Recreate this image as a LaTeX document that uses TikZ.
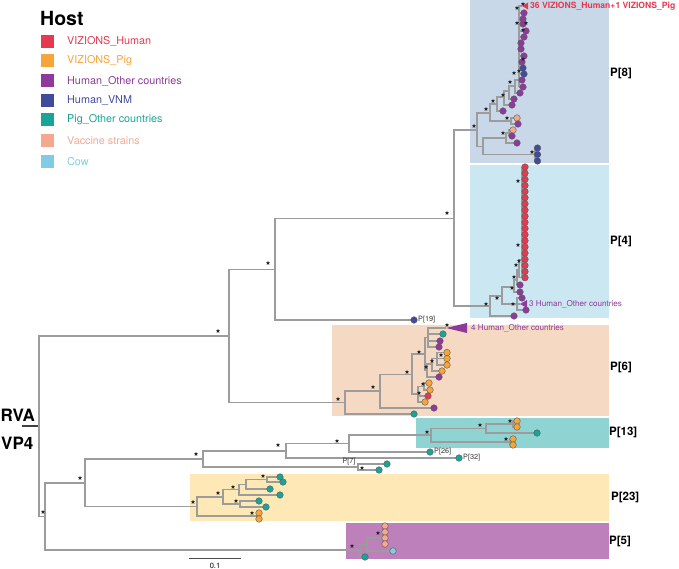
\documentclass[tikz,border=0pt]{standalone}
\usepackage{fontspec}
\setmainfont{TeX Gyre Heros}
\usetikzlibrary{shapes.geometric}
\pgfdeclarelayer{bg}
\pgfsetlayers{bg,main}
\definecolor{cR}{HTML}{E4394F}
\definecolor{cO}{HTML}{F5A53A}
\definecolor{cP}{HTML}{8E3A9A}
\definecolor{cB}{HTML}{3F4B9B}
\definecolor{cT}{HTML}{17A597}
\definecolor{cS}{HTML}{F4A88F}
\definecolor{cC}{HTML}{7FCDE4}
\definecolor{brc}{HTML}{9C9C9C}
\definecolor{bxA}{HTML}{C8D8E9}
\definecolor{bxB}{HTML}{CBE7F1}
\definecolor{bxC}{HTML}{F6D9C3}
\definecolor{bxD}{HTML}{8FD4D2}
\definecolor{bxE}{HTML}{FDE8B6}
\definecolor{bxF}{HTML}{BE80BA}
\newcommand\Lf[4]{\node[leafc,fill=#4] (#1) at (#2,#3) {};}
\newcommand\Ed[2]{\draw[br] (#1) |- (#2);}
\begin{document}
\begin{tikzpicture}[x=1pt,y=-1pt,
  br/.style={draw=brc,line width=1.2pt},
  leafc/.style={circle,draw=black!65,line width=0.4pt,inner sep=0pt,minimum size=6.6pt},
  astar/.style={star,star points=5,star point ratio=2.3,fill=black!85,draw=none,inner sep=0pt,minimum size=4.4pt},
  grp/.style={font=\fontsize{11.5}{13}\selectfont\bfseries,anchor=west,inner sep=0pt},
  small/.style={font=\fontsize{7.3}{9}\selectfont,text=black!80,inner sep=0pt,anchor=west},
  leg/.style={font=\fontsize{10.8}{12}\selectfont,anchor=west,inner sep=0pt},
  sw/.style={minimum size=13pt,inner sep=0pt,draw=none}]
\useasboundingbox (0,0) rectangle (679,569);
% ---------- legend
\node[font=\fontsize{19.5}{21}\selectfont\bfseries,anchor=west,inner sep=0pt] (host) at (40,18) {Host};
\foreach \y/\c/\t [count=\k] in {41.7/cR/VIZIONS\_Human, 61/cO/VIZIONS\_Pig, 81/cP/Human\_Other countries, 100.7/cB/Human\_VNM, 120/cT/Pig\_Other countries, 140.7/cS/Vaccine strains, 161.7/cC/Cow}{
  \node[sw,fill=\c] (sw\k) at (47.5,\y) {};
  \node[leg,text=\c] (lg\k) at (67,\y) {\t};
}
% ---------- internal nodes
\coordinate (stem) at (22,426);
\coordinate (r0) at (39,426);
\coordinate (A1) at (229,336);
\coordinate (X) at (275,269.5);
\coordinate (N454) at (454,218.5);
\coordinate (P8r) at (477,130);
\coordinate (a1) at (490,113);
\coordinate (a2) at (497,104);
\coordinate (a3) at (504,97);
\coordinate (a4) at (509,91);
\coordinate (a5) at (515,86);
\coordinate (b8) at (511,121);
\coordinate (c8) at (483,146.5);
\coordinate (d8) at (506,138);
\coordinate (d8b) at (509,133);
\coordinate (e8) at (535,154.5);
\coordinate (tri8) at (522,6);
\coordinate (P4r) at (490,306);
\coordinate (f4) at (502,296);
\coordinate (g4n) at (514,287);
\coordinate (t1) at (517,280);
\coordinate (t2) at (519,270);
\coordinate (h4) at (517,304);
\coordinate (tri4) at (520,304);
\coordinate (P6r) at (345,402.5);
\coordinate (p1) at (380,391);
\coordinate (p2) at (412,374.5);
\coordinate (p3) at (425,354);
\coordinate (q1) at (428,337.5);
\coordinate (tri6) at (446,328);
\coordinate (q2) at (427,370.5);
\coordinate (q3) at (432,364);
\coordinate (q4) at (437,358.5);
\coordinate (p4) at (418,394);
\coordinate (p5) at (424,386.5);
\coordinate (B1) at (45,516.5);
\coordinate (B2) at (85,483);
\coordinate (C1) at (203,459);
\coordinate (C2) at (286,451);
\coordinate (C3) at (349,443.5);
\coordinate (C4) at (431,435);
\coordinate (C5) at (486,428.5);
\coordinate (C7) at (513,424);
\coordinate (C6) at (510,442);
\coordinate (P7n) at (358,467);
\coordinate (R23) at (197,506.5);
\coordinate (A23) at (223,497);
\coordinate (N239) at (239,489.75);
\coordinate (N246) at (246,484.5);
\coordinate (N267) at (267,479.5);
\coordinate (D23) at (240,504);
\coordinate (E23) at (257,516);
\coordinate (F5) at (360,550);
\coordinate (G5) at (367,544.5);
\coordinate (H5) at (384,538);
\coordinate (sb1) at (189,558);
\coordinate (sb2) at (241,558);
% ---------- leaves P[8]
\Lf{l1}{503}{111}{cP}
\Lf{l2}{512}{105}{cP}
\Lf{l3}{514}{99}{cP}
\Lf{l4}{520}{93}{cP}
\Lf{l5}{517}{118}{cS}
\Lf{l6}{518}{124}{cP}
\Lf{l7}{513}{130}{cS}
\Lf{l8}{512}{136}{cP}
\Lf{l9}{517}{143}{cP}
\Lf{l10}{537.5}{148}{cB}
\Lf{l11}{537.5}{154.5}{cB}
\Lf{l12}{537.5}{161}{cB}
\foreach \y/\x/\c [count=\k] in {87/523/cP, 80/522/cP, 74/524/cB, 68/523/cB, 62/522/cP, 56/524/cP, 49/521/cP, 43/521/cP, 37/524/cP, 31/526/cP, 24/523/cP, 19/523/cP, 13/524/cP}{
  \coordinate (s\k) at (519,\y);
  \node[leafc,fill=\c] (sl\k) at (\x,\y) {};
}
% ---------- leaves P[4]
\foreach \i in {0,...,18}{
  \coordinate (u\i) at (522,167+6.15*\i);
  \node[leafc,fill=cR] (ul\i) at (525,167+6.15*\i) {};
}
\Lf{m1}{514}{316}{cP}
\Lf{m2}{520}{292}{cP}
\Lf{m3}{520}{285}{cP}
\Lf{m4}{522}{298}{cP}
\Lf{m5}{526}{310}{cP}
\Lf{p19}{414}{320}{cB}
% ---------- leaves P[6]
\Lf{k1}{414}{414}{cT}
\Lf{k2}{434}{408}{cP}
\Lf{k3}{443}{334}{cT}
\Lf{k4}{440}{341}{cP}
\Lf{k5}{439}{347}{cP}
\Lf{k6}{439}{377}{cP}
\Lf{k7}{442}{371}{cO}
\Lf{k8}{447}{352.5}{cO}
\Lf{k9}{447}{358.5}{cO}
\Lf{k10}{447}{365}{cO}
\Lf{k11}{429}{383}{cO}
\Lf{k12}{430}{390}{cO}
\Lf{k13}{428}{396}{cR}
\Lf{k14}{425}{402}{cO}
% ---------- leaves bottom
\Lf{j1}{459}{458}{cT}
\Lf{j2}{430}{452}{cT}
\Lf{j3}{537}{433}{cT}
\Lf{j4}{517}{421}{cO}
\Lf{j5}{517}{427}{cO}
\Lf{j6}{513}{439}{cO}
\Lf{j7}{513}{445}{cO}
\Lf{j8}{387}{464}{cT}
\Lf{j9}{379}{470}{cT}
\Lf{j10}{280}{495}{cT}
\Lf{j11}{270}{489}{cT}
\Lf{j12}{280}{477}{cT}
\Lf{j13}{283}{482}{cT}
\Lf{j14}{259}{501}{cT}
\Lf{j15}{266}{507}{cT}
\Lf{j16}{259}{513}{cO}
\Lf{j17}{259}{519}{cO}
\Lf{j18}{365}{557}{cT}
\Lf{j19}{393}{551}{cC}
\Lf{j20}{385}{526}{cS}
\Lf{j21}{385}{532}{cS}
\Lf{j22}{385}{538}{cS}
\Lf{j23}{385}{544}{cS}
% ---------- collapsed clades
\fill[cR] (tri8) -- ++(6,-3.5) -- ++(0,7) -- cycle;
\fill[cP] (tri4) -- ++(7,-4) -- ++(0,8) -- cycle;
\fill[cP] (tri6) -- ++(21,-5) -- ++(0,10) -- cycle;
% ---------- stars
\foreach \x/\y [count=\k] in {517/8,523/4,517/23,526/23,523/30,523/59,519/71,514/73,510/82,503/95,493/101,486/109,474/126,507/118,503/133,532/152,
  447/213,268/263,218/331,
  518/181,518/245,519/261,516/265,514/277,512/288,497/298,486/304,513/304,
  338/399,373/387,407/372,419/352,447/325,441/355,432/361,426/367,423/384,419/393,
  43/512,80/478,196/454,278/445,337/441,427/432,480/425,510/421,506/439,362/468,
  193/502,218/493,233/487,263/476,236/501,252/513,352/546,378/533}{
  \node[astar] (star\k) at (\x,\y) {};
}
% ---------- texts
\node[font=\fontsize{8.6}{9}\selectfont\bfseries,text=cR,anchor=west,inner sep=0pt] (lab36) at (530,6.5) {36 VIZIONS\_Human+1 VIZIONS\_Pig};
\node[font=\fontsize{8.1}{9}\selectfont,text=cP,anchor=west,inner sep=0pt] (lab3) at (529,304.5) {3 Human\_Other countries};
\node[font=\fontsize{8.1}{9}\selectfont,text=cP,anchor=west,inner sep=0pt] (lab4) at (471,328.5) {4 Human\_Other countries};
\node[small] (t19) at (418,320) {P[19]};
\node[small] (t26) at (434,452) {P[26]};
\node[small] (t32) at (463,458) {P[32]};
\node[small,anchor=center] (t7) at (349,462) {P[7]};
\node[grp] (gl8) at (610,73) {P[8]};
\node[grp] (gl4) at (610,241) {P[4]};
\node[grp] (gl6) at (610,367) {P[6]};
\node[grp] (gl13) at (609,432) {P[13]};
\node[grp] (gl23) at (611,497) {P[23]};
\node[grp] (gl5) at (609,541) {P[5]};
\node[font=\fontsize{17}{19}\selectfont\bfseries,anchor=west,inner sep=0pt] (rva) at (0.5,415) {RVA};
\node[font=\fontsize{17}{19}\selectfont\bfseries,anchor=west,inner sep=0pt] (vp4) at (1,443) {VP4};
\node[font=\fontsize{7.5}{8}\selectfont,inner sep=0pt] (sbl) at (215,566) {0.1};
% ---------- background layer: boxes and branches
\begin{pgfonlayer}{bg}
\fill[bxA] (470,0) rectangle (609,163);
\fill[bxB] (470,165) rectangle (609,318);
\fill[bxC] (332,325) rectangle (609,416);
\fill[bxD] (416,418) rectangle (609,448);
\fill[bxE] (190,474) rectangle (609,521);
\fill[bxF] (346,523) rectangle (609,559);
\draw[black!75,line width=1.1pt] (stem) -- (r0);
\draw[black!70,line width=0.8pt] (sb1) -- (sb2);
\Ed{r0}{A1} \Ed{r0}{B1}
\Ed{A1}{X} \Ed{A1}{P6r}
\Ed{X}{N454} \Ed{X}{p19}
\Ed{N454}{P8r} \Ed{N454}{P4r}
\Ed{P8r}{a1} \Ed{P8r}{c8}
\Ed{a1}{a2} \Ed{a1}{b8}
\Ed{a2}{a3} \Ed{a2}{l1}
\Ed{a3}{a4} \Ed{a3}{l2}
\Ed{a4}{a5} \Ed{a4}{l3}
\Ed{a5}{s2} \Ed{a5}{l4}
\Ed{b8}{l5} \Ed{b8}{l6}
\Ed{c8}{d8} \Ed{c8}{e8}
\Ed{d8}{d8b} \Ed{d8}{l9}
\Ed{d8b}{l7} \Ed{d8b}{l8}
\Ed{e8}{l10} \Ed{e8}{l11} \Ed{e8}{l12}
\draw[br] (s1) |- (tri8);
\foreach \k in {1,...,13}{\draw[br] (s\k) -- (sl\k);}
\Ed{P4r}{f4} \Ed{P4r}{m1}
\Ed{f4}{g4n} \Ed{f4}{h4}
\Ed{g4n}{t1} \Ed{g4n}{m2}
\Ed{t1}{t2} \Ed{t1}{m3}
\Ed{t2}{u18} \Ed{t2}{u15}
\draw[br] (u0) -- (u18);
\foreach \i in {0,...,18}{\draw[br] (u\i) -- (ul\i);}
\Ed{h4}{m4} \Ed{h4}{tri4} \Ed{h4}{m5}
\Ed{P6r}{p1} \Ed{P6r}{k1}
\Ed{p1}{p2} \Ed{p1}{k2}
\Ed{p2}{p3} \Ed{p2}{p4}
\Ed{p3}{q1} \Ed{p3}{q2}
\Ed{q1}{tri6} \Ed{q1}{k3} \Ed{q1}{k4} \Ed{q1}{k5}
\Ed{q2}{q3} \Ed{q2}{k6}
\Ed{q3}{q4} \Ed{q3}{k7}
\Ed{q4}{k8} \Ed{q4}{k9} \Ed{q4}{k10}
\Ed{p4}{p5} \Ed{p4}{k13} \Ed{p4}{k14}
\Ed{p5}{k11} \Ed{p5}{k12}
\Ed{B1}{B2} \Ed{B1}{F5}
\Ed{B2}{C1} \Ed{B2}{R23}
\Ed{C1}{C2} \Ed{C1}{P7n}
\Ed{C2}{C3} \Ed{C2}{j1}
\Ed{C3}{C4} \Ed{C3}{j2}
\Ed{C4}{C5} \Ed{C4}{C6}
\Ed{C5}{C7} \Ed{C5}{j3}
\Ed{C7}{j4} \Ed{C7}{j5}
\Ed{C6}{j6} \Ed{C6}{j7}
\Ed{P7n}{j8} \Ed{P7n}{j9}
\Ed{R23}{A23} \Ed{R23}{E23}
\Ed{A23}{N239} \Ed{A23}{D23}
\Ed{N239}{N246} \Ed{N239}{j10}
\Ed{N246}{N267} \Ed{N246}{j11}
\Ed{N267}{j12} \Ed{N267}{j13}
\Ed{D23}{j14} \Ed{D23}{j15}
\Ed{E23}{j16} \Ed{E23}{j17}
\Ed{F5}{G5} \Ed{F5}{j18}
\Ed{G5}{H5} \Ed{G5}{j19}
\Ed{H5}{j20} \Ed{H5}{j21} \Ed{H5}{j22} \Ed{H5}{j23}
\end{pgfonlayer}
\end{tikzpicture}
\end{document}
